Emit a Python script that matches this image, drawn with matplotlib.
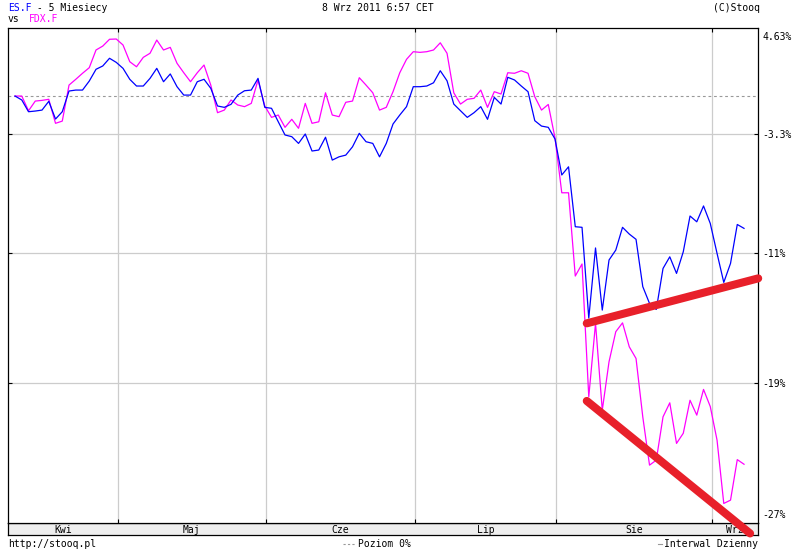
import numpy as np
import pandas as pd
import matplotlib
matplotlib.use("Agg")
import matplotlib.pyplot as plt
from matplotlib.lines import Line2D

# daily sessions, 5 months back from the chart date
dates = pd.bdate_range("2011-04-08", "2011-09-07")

# % change vs first session
es = [0.00, -0.29, -1.15, -1.10, -1.03, -0.39, -1.68, -1.15, 0.37, 0.44,
      0.44, 1.11, 1.99, 2.24, 2.82, 2.51, 2.06, 1.24, 0.74, 0.74,
      1.31, 2.06, 1.06, 1.64, 0.69, 0.07, 0.07, 1.06, 1.24, 0.57,
      -0.73, -0.83, -0.61, 0.07, 0.39, 0.44, 1.31, -0.83, -0.90, -1.88,
      -2.83, -2.95, -3.43, -2.76, -3.97, -3.90, -2.99, -4.61, -4.38, -4.26,
      -3.67, -2.71, -3.31, -3.43, -4.38, -3.43, -2.04, -1.39, -0.78, 0.69,
      0.69, 0.74, 0.98, 1.88, 1.13, -0.59, -1.08, -1.56, -1.22, -0.78,
      -1.70, -0.10, -0.59, 1.39, 1.19, 0.74, 0.32, -1.80, -2.19, -2.28,
      -3.12, -5.65, -5.08, -9.18, -9.22, -15.09, -10.59, -14.59, -11.38, -10.73,
      -9.22, -9.67, -10.02, -13.10, -14.17, -14.55, -11.93, -11.17, -12.25, -10.84,
      -8.46, -8.85, -7.78, -8.96, -10.94, -12.83, -11.60, -9.03, -9.29]

fdx = [0.00, 0.00, -1.08, -0.37, -0.32, -0.24, -1.99, -1.83, 0.81, 1.24,
       1.69, 2.11, 3.45, 3.75, 4.27, 4.29, 3.83, 2.56, 2.18, 2.89,
       3.20, 4.21, 3.45, 3.65, 2.44, 1.73, 1.06, 1.73, 2.31, 0.81,
       -1.22, -1.03, -0.29, -0.66, -0.78, -0.54, 1.19, -0.73, -1.56, -1.39,
       -2.28, -1.70, -2.35, -0.54, -1.99, -1.88, 0.24, -1.39, -1.51, -0.46,
       -0.37, 1.36, 0.81, 0.24, -1.03, -0.83, 0.32, 1.73, 2.74, 3.32,
       3.27, 3.32, 3.45, 4.00, 3.20, 0.24, -0.59, -0.24, -0.17, 0.44,
       -0.83, 0.32, 0.15, 1.73, 1.69, 1.88, 1.69, -0.05, -1.03, -0.62,
       -3.05, -6.88, -6.88, -12.42, -11.64, -19.88, -15.42, -20.66, -17.78, -15.94,
       -15.39, -16.87, -17.58, -21.05, -23.81, -23.53, -21.05, -20.23, -22.58, -22.00,
       -20.08, -20.95, -19.44, -20.45, -22.39, -25.93, -25.75, -23.50, -23.76]

months = ["Kwi", "Maj", "Cze", "Lip", "Sie", "Wrz"]
grid_vals = [-2.78, -10.94, -19.08]
grid_labels = ["-3.3%", "-11%", "-19%"]

# hand-drawn trend lines (session index, %)
trend_up_x, trend_up_y = [84.7, 110.1], [-15.42, -12.57]
trend_dn_x, trend_dn_y = [84.7, 108.9], [-20.12, -27.55]

MONO = "DejaVu Sans Mono"
FS = 7
W, H = 800.0, 550.0

x = np.arange(len(dates))
starts = [i for i in range(1, len(dates)) if dates[i].month != dates[i - 1].month]
bounds = np.array(starts) - 0.8
xlim = (-1.04, 110.07)


def fwd(p):
    return np.log1p(np.asarray(p) / 100.0)


def inv(v):
    return 100.0 * np.expm1(np.asarray(v))


fig = plt.figure(figsize=(8, 5.5), dpi=100)
ax = fig.add_axes([8 / W, 27 / H, 750 / W, 495 / H])
band = fig.add_axes([8 / W, 15 / H, 750 / W, 12 / H])
ax.set_zorder(3)

ax.set_yscale("function", functions=(fwd, inv))
ax.set_ylim(-26.99, 5.14)
ax.set_xlim(*xlim)

for b in bounds:
    ax.axvline(b, color="#cccccc", lw=0.9, zorder=1)
for g in grid_vals:
    ax.axhline(g, color="#cccccc", lw=0.9, zorder=1)
ax.axhline(0, color="#999999", lw=0.8, dashes=(2.5, 2.5), zorder=2)

ax.plot(x, fdx, color="#ff00ff", lw=0.9, zorder=4)
ax.plot(x, es, color="#0000ff", lw=0.9, zorder=5)

for tx, ty in [(trend_up_x, trend_up_y), (trend_dn_x, trend_dn_y)]:
    ax.plot(tx, ty, color="#e8202a", lw=5.8, solid_capstyle="round",
            clip_on=False, zorder=10)

ax.set_xticks(bounds)
ax.set_yticks(grid_vals)
ax.set_yticklabels(grid_labels, fontfamily=MONO, fontsize=FS)
ax.yaxis.set_minor_locator(matplotlib.ticker.NullLocator())
ax.tick_params(axis="both", direction="in", length=3, width=0.8,
               top=True, right=True, labelbottom=False, labelleft=False,
               labelright=True, pad=3)
for s in ax.spines.values():
    s.set_linewidth(0.9)

ax.text(1 + 4 / 750, (523 - 37) / 495, "4.63%", transform=ax.transAxes,
        fontfamily=MONO, fontsize=FS, va="center", ha="left")
ax.text(1 + 4 / 750, (523 - 515) / 495, "-27%", transform=ax.transAxes,
        fontfamily=MONO, fontsize=FS, va="center", ha="left")

band.set_facecolor("#eeeeee")
band.set_xlim(*xlim)
band.set_xticks([])
band.set_yticks([])
for s in band.spines.values():
    s.set_linewidth(0.9)
edges = [xlim[0]] + list(bounds) + [xlim[1]]
for i, m in enumerate(months):
    band.text((edges[i] + edges[i + 1]) / 2, 0.45, m, transform=band.get_xaxis_transform(),
              ha="center", va="center", fontfamily=MONO, fontsize=FS)

cw = 0.602 * FS * 100 / 72  # mono char width px
y1, y2, yb = 1 - 8 / H, 1 - 19 / H, 1 - 544 / H
fig.text(8 / W, y1, "ES.F", color="#0000ff", fontfamily=MONO, fontsize=FS, va="center")
fig.text((8 + 4 * cw) / W, y1, " - 5 Miesiecy", color="black", fontfamily=MONO,
         fontsize=FS, va="center")
fig.text(8 / W, y2, "vs", color="black", fontfamily=MONO, fontsize=FS, va="center")
fig.text(29 / W, y2, "FDX.F", color="#ff00ff", fontfamily=MONO, fontsize=FS, va="center")
fig.text(378 / W, y1, "8 Wrz 2011 6:57 CET", fontfamily=MONO, fontsize=FS,
         va="center", ha="center")
fig.text(760 / W, y1, "(C)Stooq", fontfamily=MONO, fontsize=FS, va="center", ha="right")

fig.text(8 / W, yb, "http://stooq.pl", fontfamily=MONO, fontsize=FS, va="center")
fig.add_artist(Line2D([343 / W, 356 / W], [yb, yb], color="#999999", lw=0.8,
                      dashes=(2.0, 2.0), transform=fig.transFigure))
fig.text(358 / W, yb, "Poziom 0%", fontfamily=MONO, fontsize=FS, va="center")
fig.add_artist(Line2D([658 / W, 662 / W], [yb, yb], color="#999999", lw=0.8,
                      transform=fig.transFigure))
fig.text(758 / W, yb, "Interwal Dzienny", fontfamily=MONO, fontsize=FS,
         va="center", ha="right")

fig.savefig("out.png", dpi=100)
